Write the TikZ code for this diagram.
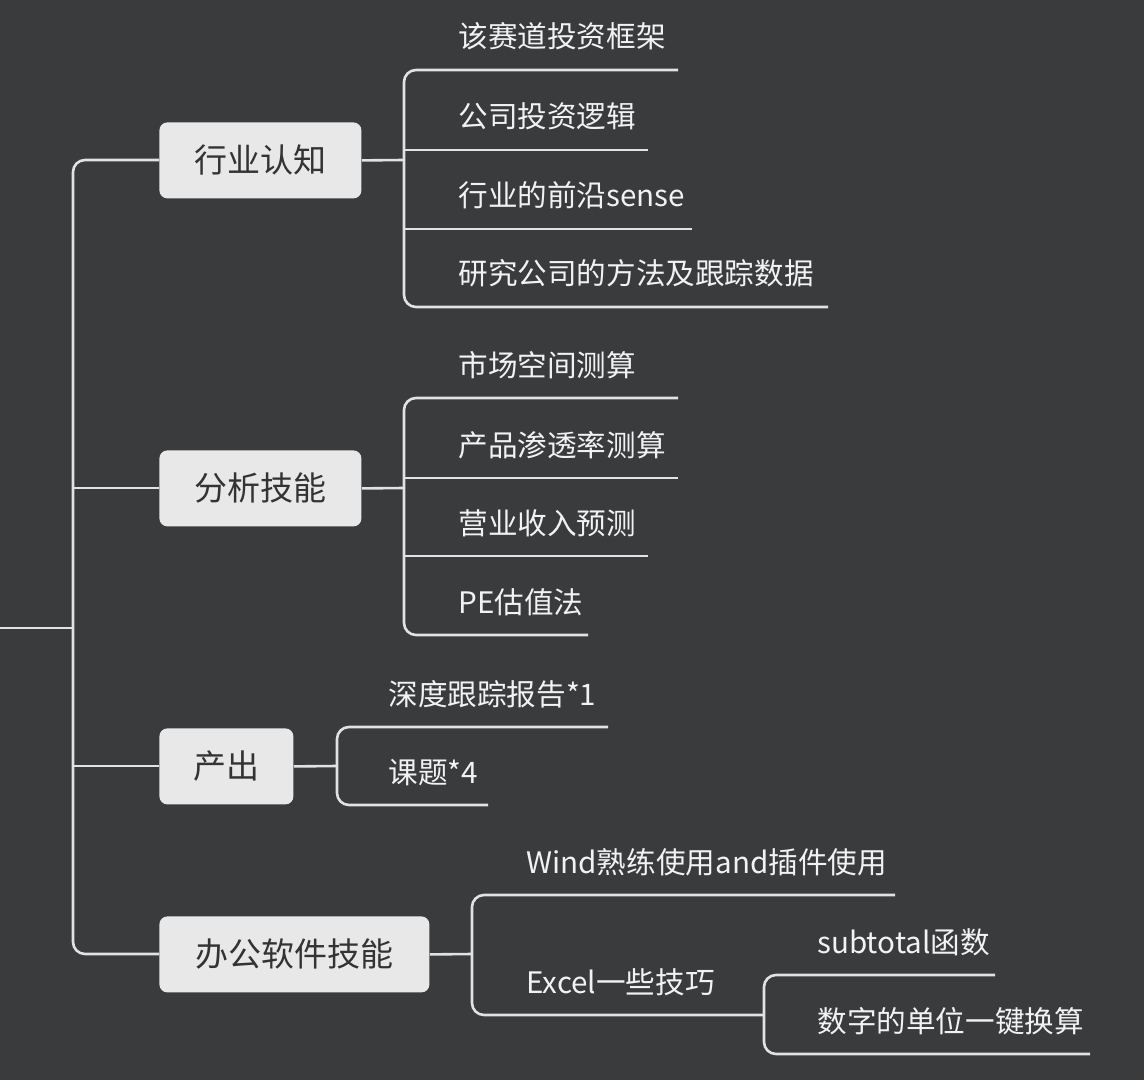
\documentclass[tikz,border=0pt]{standalone}
\usepackage{fontspec}
\setmainfont{Noto Sans CJK SC}
\definecolor{bg}{HTML}{3A3B3D}
\definecolor{ln}{HTML}{E2E2E2}
\definecolor{bx}{HTML}{E8E8E8}
\definecolor{tx}{HTML}{F2F2F2}
\begin{document}
\begin{tikzpicture}[x=0.5pt,y=-0.5pt,
  l/.style={draw=ln,line width=1.3pt,rounded corners=6pt},
  box/.style={fill=bx,rounded corners=4pt,anchor=north west},
  bt/.style={font=\fontsize{16.5}{18}\selectfont,text=black!80},
  leaf/.style={text=tx,font=\fontsize{14.8}{16}\selectfont,anchor=base west,inner sep=0pt}]
\fill[bg] (0,0) rectangle (1144,1080);
\useasboundingbox (0,0) rectangle (1144,1080);
% main trunk
\coordinate (r) at (0,628);
\draw[l] (r) -- (73,628);
\draw[l] (159,160) -- (73,160) -- (73,954) -- (159,954);
\draw[l] (73,488) -- (159,488);
\draw[l] (73,766) -- (159,766);
% boxes
\node[box,minimum width=101pt,minimum height=38pt] (b1) at (159,122) {};
\node[bt] at (b1.center) {行业认知};
\node[box,minimum width=101pt,minimum height=38pt] (b2) at (159,450) {};
\node[bt] at (b2.center) {分析技能};
\node[box,minimum width=67pt,minimum height=38pt] (b3) at (159,728) {};
\node[bt] at (b3.center) {产出};
\node[box,minimum width=135pt,minimum height=38pt] (b4) at (159,916) {};
\node[bt] at (b4.center) {办公软件技能};
% group 1
\draw[l] (b1.east) -- (404,160);
\draw[l] (678,70) -- (404,70) -- (404,307) -- (828,307);
\draw[l] (404,150) -- (648,150);
\draw[l] (404,229) -- (692,229);
\node[leaf] (t11) at (458,48) {该赛道投资框架};
\node[leaf] (t12) at (458,128) {公司投资逻辑};
\node[leaf] (t13) at (458,207) {行业的前沿sense};
\node[leaf] (t14) at (458,285) {研究公司的方法及跟踪数据};
% group 2
\draw[l] (b2.east) -- (404,488);
\draw[l] (678,398) -- (404,398) -- (404,635) -- (588,635);
\draw[l] (404,478) -- (678,478);
\draw[l] (404,556) -- (648,556);
\node[leaf] (t21) at (458,376) {市场空间测算};
\node[leaf] (t22) at (458,456) {产品渗透率测算};
\node[leaf] (t23) at (458,534) {营业收入预测};
\node[leaf] (t24) at (458,613) {PE估值法};
% group 3
\draw[l] (b3.east) -- (337,766);
\draw[l] (608,727) -- (337,727) -- (337,805) -- (488,805);
\node[leaf] (t31) at (388,705) {深度跟踪报告*1};
\node[leaf] (t32) at (388,783) {课题*4};
% group 4
\draw[l] (b4.east) -- (472,954);
\draw[l] (895,895) -- (472,895) -- (472,1015) -- (764,1015);
\node[leaf] (t41) at (526,873) {Wind熟练使用and插件使用};
\node[leaf] (t42) at (526,993) {Excel一些技巧};
\draw[l] (995,975) -- (764,975) -- (764,1054) -- (1090,1054);
\node[leaf] (t51) at (817,953) {subtotal函数};
\node[leaf] (t52) at (817,1032) {数字的单位一键换算};
\end{tikzpicture}
\end{document}
